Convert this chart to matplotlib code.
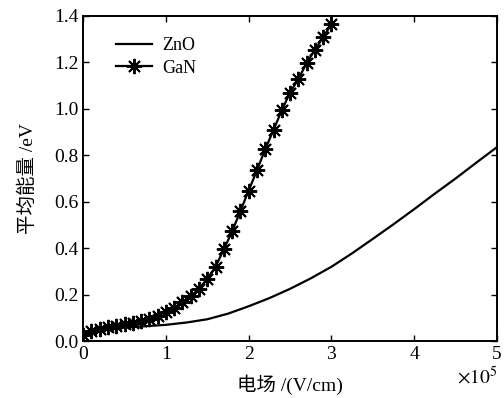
import matplotlib.pyplot as plt
import numpy as np

# field in units of 1e5 V/cm
campo_zno = [0.0, 0.25, 0.5, 0.75, 1.0, 1.25, 1.5, 1.75, 2.0, 2.25, 2.5, 2.75, 3.0,
             3.25, 3.5, 3.75, 4.0, 4.25, 4.5, 4.75, 5.0]
energia_zno = [0.03, 0.048, 0.058, 0.064, 0.07, 0.08, 0.094, 0.118, 0.15, 0.185, 0.225,
               0.27, 0.32, 0.378, 0.44, 0.503, 0.568, 0.635, 0.70, 0.768, 0.835]

campo_gan = [0.0, 0.1, 0.2, 0.3, 0.4, 0.5, 0.6, 0.7, 0.8, 0.9, 1.0, 1.1, 1.2, 1.3, 1.4, 1.5,
             1.6, 1.7, 1.8, 1.9, 2.0, 2.1, 2.2, 2.3, 2.4, 2.5, 2.6, 2.7, 2.8, 2.9, 3.0]
energia_gan = [0.028, 0.042, 0.052, 0.060, 0.067, 0.073, 0.080, 0.088, 0.097, 0.110, 0.126,
               0.144, 0.167, 0.193, 0.225, 0.268, 0.320, 0.395, 0.472, 0.560, 0.648,
               0.735, 0.826, 0.909, 0.993, 1.070, 1.128, 1.197, 1.254, 1.308, 1.365]

plt.rcParams['font.family'] = ['Liberation Serif', 'Noto Sans CJK SC']
plt.rcParams['mathtext.fontset'] = 'stix'

fig = plt.figure(figsize=(5.04, 3.98), dpi=100)
ax = fig.add_axes([0.165, 0.143, 0.821, 0.817])

ax.plot(campo_zno, energia_zno, color='black', lw=1.6, label='ZnO')
ax.plot(campo_gan, energia_gan, color='black', lw=1.6, marker=(8, 2, 0),
        markersize=11, markeredgewidth=1.4, label='GaN')

ax.set_xlim(0, 5)
ax.set_ylim(0, 1.4)
ax.set_xticks([0, 1, 2, 3, 4, 5])
ax.set_yticks(np.arange(0, 1.41, 0.2))
ax.set_yticklabels(['0.0', '0.2', '0.4', '0.6', '0.8', '1.0', '1.2', '1.4'])
ax.tick_params(direction='in', top=True, right=True, labelsize=14, length=4, width=1)
for s in ax.spines.values():
    s.set_linewidth(1.4)

ax.set_xlabel('电场 /(V/cm)', fontsize=14, labelpad=8)
ax.set_ylabel('平均能量 /eV', fontsize=14, labelpad=12)
ax.text(1.0, -0.075, r'$\times10^5$', transform=ax.transAxes, fontsize=14,
        ha='right', va='top')

ax.legend(loc='upper left', frameon=False, fontsize=13, handlelength=2.0,
          borderaxespad=0.6, bbox_to_anchor=(0.035, 0.99), labelspacing=0.3,
          handletextpad=0.6)

fig.savefig('out.png', dpi=100)
